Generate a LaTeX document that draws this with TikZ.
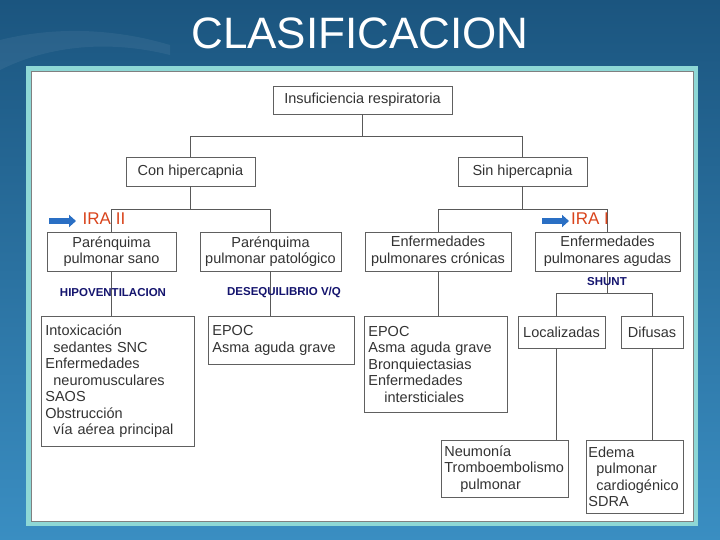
\documentclass[tikz,border=0pt]{standalone}
\usepackage{fontspec}
\setmainfont{Liberation Sans}
\usetikzlibrary{arrows.meta}
\definecolor{bgtop}{HTML}{1B557F}
\definecolor{bgbot}{HTML}{3A8EC2}
\definecolor{panel}{HTML}{8ED8D6}
\definecolor{txt}{HTML}{333333}
\definecolor{ira}{HTML}{D9441C}
\definecolor{navy}{HTML}{14146E}
\definecolor{arr}{HTML}{2A6FC4}
\begin{document}
\begin{tikzpicture}[x=1pt,y=-1pt,
 box/.style={draw=gray!75!black,line width=0.8pt,fill=white,inner sep=0pt,text=txt,font=\fontsize{14.5}{16.5}\selectfont},
 ln/.style={draw=gray!70!black,line width=0.8pt},
 lab/.style={text=navy,font=\bfseries\fontsize{11.5}{12}\selectfont},
 ira/.style={text=ira,font=\fontsize{17}{18}\selectfont},
 bar/.style={arr,line width=6pt,-{Triangle[length=7pt,width=12pt]}}]
\useasboundingbox (0,0) rectangle (720,540);
\shade[top color=bgtop,bottom color=bgbot] (0,0) rectangle (720,540);
\fill[white,opacity=0.06] (0,40) .. controls (60,25) and (120,30) .. (170,45) -- (170,55) .. controls (110,40) and (50,45) .. (0,70) -- cycle;
\node[white,font=\fontsize{44}{46}\selectfont] (title) at (360,33) {CLASIFICACION};
\fill[panel] (26,66) rectangle (698,526);
\fill[white,draw=gray,line width=0.6pt] (31,71) rectangle (693,521);
% boxes
\node[box,minimum width=179,minimum height=28] (ins) at (362.5,100) {Insuficiencia respiratoria};
\node[box,minimum width=129,minimum height=29] (con) at (190.5,171.5) {Con hipercapnia};
\node[box,minimum width=129,minimum height=29] (sin) at (522.5,171.5) {Sin hipercapnia};
\node[box,minimum width=129,minimum height=39,align=center] (sano) at (111.5,251.5) {Parénquima\\pulmonar sano};
\node[box,minimum width=141,minimum height=39,align=center] (pat) at (270.5,251.5) {Parénquima\\pulmonar patológico};
\node[box,minimum width=146,minimum height=39,align=center] (cro) at (438,251.5) {Enfermedades\\pulmonares crónicas};
\node[box,minimum width=145,minimum height=39,align=center] (agu) at (607.5,251.5) {Enfermedades\\pulmonares agudas};
\node[box,minimum width=153,minimum height=130,align=left,anchor=north west,text width=145,inner xsep=4pt,inner ysep=3pt] (intox) at (41,316) {Intoxicación\\\hspace*{8pt}sedantes SNC\\Enfermedades\\\hspace*{8pt}neuromusculares\\SAOS\\Obstrucción\\\hspace*{8pt}vía aérea principal};
\node[box,minimum width=146,minimum height=48,align=left,anchor=north west,text width=138,inner xsep=4pt,inner ysep=3pt] (epoc1) at (208,316) {EPOC\\Asma aguda grave};
\node[box,minimum width=143,minimum height=96,align=left,anchor=north west,text width=135,inner xsep=4pt,inner ysep=3pt] (epoc2) at (364,316) {EPOC\\Asma aguda grave\\Bronquiectasias\\Enfermedades\\\hspace*{16pt}intersticiales};
\node[box,minimum width=87,minimum height=32] (loc) at (561.5,332) {Localizadas};
\node[box,minimum width=62,minimum height=32] (dif) at (652,332) {Difusas};
\node[box,minimum width=127,minimum height=57,align=left,anchor=north west,text width=121,inner xsep=3pt,inner ysep=3pt] (neu) at (441,440) {Neumonía\\Tromboembolismo\\\hspace*{16pt}pulmonar};
\node[box,minimum width=97,minimum height=73,align=left,anchor=north west,text width=93,inner xsep=2pt,inner ysep=3pt] (ede) at (586,440) {Edema\\\hspace*{8pt}pulmonar\\\hspace*{8pt}cardiogénico\\SDRA};
% connectors
\draw[ln] (ins.south) -- (362.5,136) -| (con.north);
\draw[ln] (362.5,136) -| (sin.north);
\draw[ln] (con.south) -- (190.5,209) -| (sano.north);
\draw[ln] (190.5,209) -| (pat.north);
\draw[ln] (sin.south) -- (522.5,209) -| (cro.north);
\draw[ln] (522.5,209) -| (agu.north);
\draw[ln] (sano.south) -- (sano.south|-intox.north);
\draw[ln] (pat.south) -- (pat.south|-epoc1.north);
\draw[ln] (cro.south) -- (cro.south|-epoc2.north);
\coordinate (sh) at (607.5,293);
\draw[ln] (agu.south) -- (sh) -| (556,316);
\draw[ln] (sh) -| (dif.north);
\draw[ln] (556,348) -- (556,440);
\draw[ln] (dif.south) -- (dif.south|-ede.north);
% labels
\node[ira,inner sep=1pt] (ira2) at (104,219) {IRA II};
\node[ira,inner sep=1pt] (ira1) at (590,219) {IRA I};
\coordinate (a2s) at (49,221); \coordinate (a2e) at (76,221);
\coordinate (a1s) at (542,221); \coordinate (a1e) at (569,221);
\draw[bar] (a2s) -- (a2e);
\draw[bar] (a1s) -- (a1e);
\node[lab] (hipo) at (113,293) {HIPOVENTILACION};
\node[lab] (deseq) at (284,292) {DESEQUILIBRIO V/Q};
\node[lab] (shunt) at (607,282) {SHUNT};
\end{tikzpicture}
\end{document}
